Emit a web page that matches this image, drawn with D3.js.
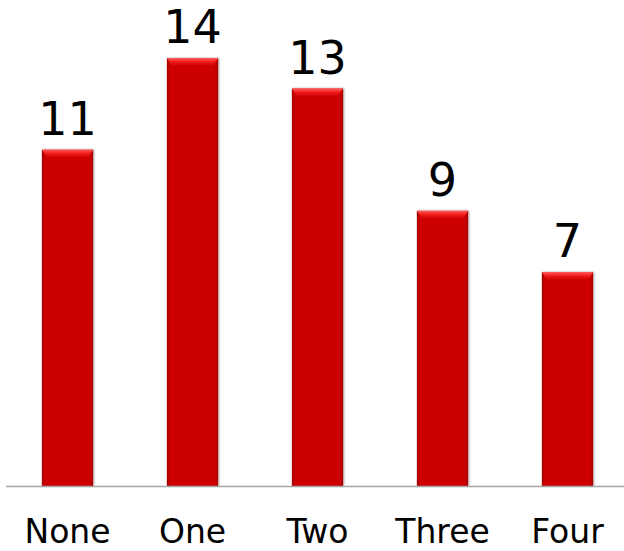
<!DOCTYPE html>
<html>
<head>
<meta charset="utf-8">
<script src="https://cdn.jsdelivr.net/npm/d3@7"></script>
<style>
  html, body { margin: 0; padding: 0; background: #fff; }
  svg { display: block; }
  text { font-family: "DejaVu Sans", Verdana, sans-serif; fill: #000; }
</style>
</head>
<body>
<div id="chart"></div>
<script>
const categories = ["None", "One", "Two", "Three", "Four"];
const values = [11, 14, 13, 9, 7];

const width = 624, height = 551;
const baseline = 486;

const svg = d3.select("#chart").append("svg")
  .attr("width", width).attr("height", height);

const defs = svg.append("defs");
const hg = defs.append("linearGradient").attr("id", "barH")
  .attr("x1", "0").attr("x2", "1").attr("y1", "0").attr("y2", "0");
hg.append("stop").attr("offset", "0").attr("stop-color", "#a30000");
hg.append("stop").attr("offset", "0.06").attr("stop-color", "#cc0000");
hg.append("stop").attr("offset", "0.94").attr("stop-color", "#cc0000");
hg.append("stop").attr("offset", "1").attr("stop-color", "#a30000");

const tg = defs.append("linearGradient").attr("id", "barTop")
  .attr("x1", "0").attr("x2", "0").attr("y1", "0").attr("y2", "1");
tg.append("stop").attr("offset", "0").attr("stop-color", "#ff5a5a");
tg.append("stop").attr("offset", "0.5").attr("stop-color", "#f01818");
tg.append("stop").attr("offset", "1").attr("stop-color", "#cc0000");

const filt = defs.append("filter").attr("id", "shadow")
  .attr("x", "-20%").attr("y", "-5%").attr("width", "140%").attr("height", "110%");
filt.append("feDropShadow").attr("dx", 1).attr("dy", 0).attr("stdDeviation", 1.2)
  .attr("flood-color", "#000").attr("flood-opacity", 0.35);

const x = d3.scaleBand()
  .domain(categories)
  .range([5, 630])
  .paddingInner(0.59)
  .paddingOuter(0.295);

const y = d3.scaleLinear()
  .domain([0, 14])
  .range([baseline, 58]);

const data = categories.map((c, i) => ({ c, v: values[i] }));

const g = svg.append("g");

const bars = g.selectAll("g.bar").data(data).join("g").attr("class", "bar")
  .attr("filter", "url(#shadow)");

bars.append("rect")
  .attr("x", d => x(d.c))
  .attr("y", d => y(d.v))
  .attr("width", x.bandwidth())
  .attr("height", d => baseline - y(d.v))
  .attr("fill", "url(#barH)");

// bevel top
bars.append("path")
  .attr("d", d => {
    const x0 = x(d.c), x1 = x0 + x.bandwidth(), t = y(d.v), b = 8;
    return `M${x0},${t}L${x1},${t}L${x1 - 5},${t + b}L${x0 + 5},${t + b}Z`;
  })
  .attr("fill", "url(#barTop)");

// axis line
svg.append("line")
  .attr("x1", 6).attr("x2", width)
  .attr("y1", baseline + 0.5).attr("y2", baseline + 0.5)
  .attr("stroke", "#a6a6a6").attr("stroke-width", 1.5);

// value labels
g.selectAll("text.val").data(data).join("text").attr("class", "val")
  .attr("x", d => x(d.c) + x.bandwidth() / 2)
  .attr("y", d => y(d.v) - 15)
  .attr("text-anchor", "middle")
  .attr("font-size", 46)
  .text(d => d.v);

// category labels
const xAxis = d3.axisBottom(x).tickSize(0).tickPadding(0);
const ax = svg.append("g").attr("transform", `translate(0,${baseline})`).call(xAxis);
ax.select(".domain").remove();
ax.selectAll("text")
  .attr("dy", null)
  .attr("y", 57)
  .attr("font-size", 33)
  .attr("font-family", "DejaVu Sans, Verdana, sans-serif")
  .attr("fill", "#000");
</script>
</body>
</html>
